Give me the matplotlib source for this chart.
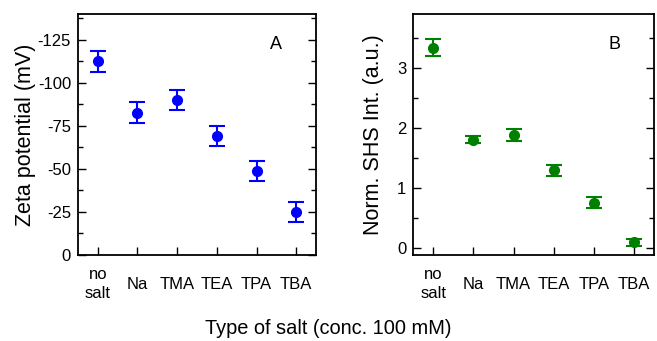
import matplotlib
matplotlib.use('Agg')
import matplotlib.pyplot as plt
from matplotlib.ticker import MultipleLocator

plt.rcParams['font.family'] = ['Liberation Sans', 'DejaVu Sans']
plt.rcParams['axes.unicode_minus'] = False

# data
salts = ['no\nsalt', 'Na', 'TMA', 'TEA', 'TPA', 'TBA']
zeta = [-112.5, -82.7, -90.0, -69.2, -48.9, -25.0]
zeta_err = [6.0, 6.1, 5.8, 5.8, 5.9, 5.8]
shs = [3.34, 1.81, 1.89, 1.30, 0.76, 0.10]
shs_err = [0.14, 0.06, 0.10, 0.09, 0.09, 0.06]

fig = plt.figure(figsize=(6.57, 3.41), dpi=100)
axA = fig.add_axes([0.1187, 0.2522, 0.3623, 0.7067])
axB = fig.add_axes([0.629, 0.2522, 0.3664, 0.7067])

x = list(range(len(salts)))


def style(ax):
    ax.set_xlim(-0.5, 5.5)
    ax.set_xticks(x)
    ax.set_xticklabels(salts, va='center', linespacing=1.3)
    ax.tick_params(axis='x', direction='in', length=6, width=1, pad=21,
                   labelsize=12, top=False)
    ax.tick_params(axis='y', which='major', direction='in', length=6, width=1,
                   right=True, labelsize=12, pad=5)
    ax.tick_params(axis='y', which='minor', direction='in', length=3.5, width=1,
                   right=True)
    for s in ax.spines.values():
        s.set_linewidth(1.3)


axA.errorbar(x, zeta, yerr=zeta_err, fmt='o', color='#0000ff', ms=7,
             elinewidth=1.5, capsize=6, capthick=1.5)
axA.set_ylim(0, -140)
axA.yaxis.set_major_locator(MultipleLocator(25))
axA.yaxis.set_minor_locator(MultipleLocator(12.5))
axA.set_ylabel('Zeta potential (mV)', fontsize=15.5, labelpad=1)
axA.text(0.805, 0.855, 'A', transform=axA.transAxes, fontsize=13)
style(axA)

axB.errorbar(x, shs, yerr=shs_err, fmt='o', color='#008000', ms=7,
             elinewidth=1.5, capsize=6, capthick=1.5)
axB.set_ylim(-0.11, 3.9)
axB.yaxis.set_major_locator(MultipleLocator(1))
axB.yaxis.set_minor_locator(MultipleLocator(0.5))
axB.set_ylabel('Norm. SHS Int. (a.u.)', fontsize=15.5, labelpad=9)
axB.text(0.81, 0.855, 'B', transform=axB.transAxes, fontsize=13)
style(axB)

fig.text(0.5, 0.02, 'Type of salt (conc. 100 mM)', ha='center', fontsize=14.4)

fig.savefig('out.png', dpi=100)
